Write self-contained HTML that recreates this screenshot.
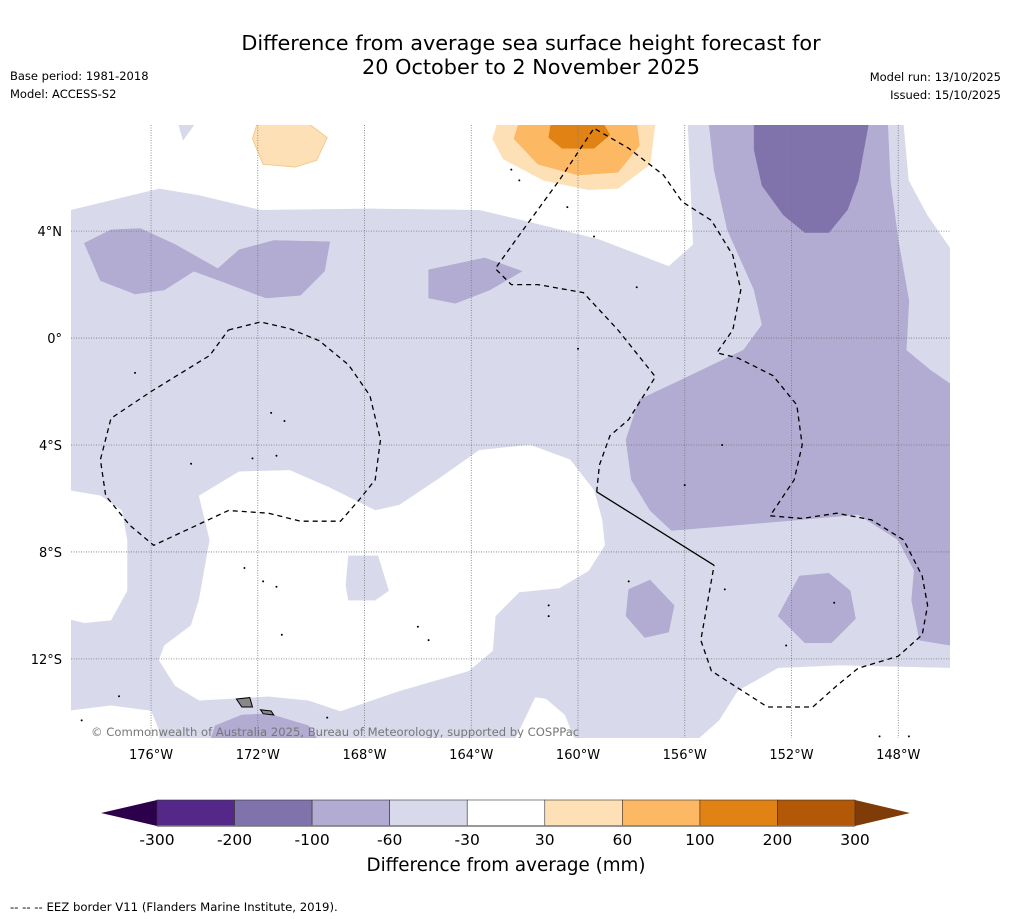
<!DOCTYPE html>
<html><head><meta charset="utf-8">
<style>
body{margin:0;background:#fff;width:1011px;height:919px;overflow:hidden;font-family:"DejaVu Sans","Liberation Sans",sans-serif;}
svg{position:absolute;left:0;top:0}
</style></head>
<body>
<svg id="chart" width="1011" height="919" viewBox="0 0 1011 919" xmlns="http://www.w3.org/2000/svg">
<text x="531" y="50" text-anchor="middle" font-size="20.8">Difference from average sea surface height forecast for</text>
<text x="531" y="74" text-anchor="middle" font-size="20.8">20 October to 2 November 2025</text>
<text x="10" y="80" font-size="11.5">Base period: 1981-2018</text>
<text x="10" y="98" font-size="11.5">Model: ACCESS-S2</text>
<text x="1001" y="81" text-anchor="end" font-size="11.5">Model run: 13/10/2025</text>
<text x="1001" y="99" text-anchor="end" font-size="11.5">Issued: 15/10/2025</text>
<defs><clipPath id="mapclip"><rect x="71" y="125" width="879" height="613"/></clipPath></defs>
<g id="map" clip-path="url(#mapclip)"></g>
<g id="axes"></g>
<g id="cbar"></g>
<text x="506" y="871" text-anchor="middle" font-size="18.3">Difference from average (mm)</text>
<text x="10" y="911" font-size="11.7">--  --  -- EEZ border V11 (Flanders Marine Institute, 2019).</text>
</svg>
<script>
const lonTicks=[-176,-172,-168,-164,-160,-156,-152,-148];
const lonLabels=["176°W","172°W","168°W","164°W","160°W","156°W","152°W","148°W"];
const latTicks=[4,0,-4,-8,-12];
const latLabels=["4°N","0°","4°S","8°S","12°S"];
const cbarLevels=[-300,-200,-100,-60,-30,30,60,100,200,300];
const cbarColors=["#542788","#8073ac","#b2abd2","#d8daeb","#ffffff","#fee0b6","#fdb863","#e08214","#b35806"];

const whiteTop=[[-179,4.8],[-175.7,5.6],[-174.2,5.35],[-171.9,4.8],[-167.8,4.85],[-163.7,4.8],[-161.8,4.35],[-159.2,3.7],[-156.6,2.7],[-155.7,3.5],[-155.9,8.1],[-179.1,8.1]];
const lightTopSliver=[[-175,8.1],[-174.3,8.1],[-174.8,7.4]];
const whiteTopRight=[[-147.8,8.1],[-147.6,5.9],[-146.9,4.6],[-146,3.3],[-146,8.1]];
const purpleRight=[[-155.1,8.1],[-154.9,6.3],[-154.4,4.05],[-153.4,1.8],[-153.1,0.5],[-153.8,-0.45],[-156.2,-1.6],[-157.7,-2.3],[-158.2,-3.8],[-158,-5.3],[-157.3,-6.45],[-156.5,-7.2],[-152.9,-6.9],[-149.5,-6.6],[-148,-7.55],[-147.4,-8.7],[-147.5,-9.8],[-147.2,-11.3],[-146,-11.5],[-146,-1.75],[-146.8,-1.2],[-147.7,-0.45],[-147.6,1.4],[-148,3.65],[-148.3,5.9],[-148.4,8.1]];
const darkRight=[[-153.4,8.1],[-153.4,7.05],[-153.1,5.7],[-152.3,4.6],[-151.5,3.95],[-150.6,3.95],[-149.9,4.8],[-149.5,5.9],[-149.1,8.1]];
const purpleLeft=[[-178.5,3.55],[-177.5,4.05],[-176.4,4.1],[-175.1,3.5],[-173.5,2.6],[-172.7,3.3],[-171.4,3.65],[-169.3,3.6],[-169.5,2.5],[-170.4,1.6],[-171.7,1.5],[-173.3,2.1],[-174.4,2.5],[-175.5,1.8],[-176.6,1.65],[-177.9,2.15]];
const purpleMid=[[-165.6,2.55],[-163.5,3],[-162.1,2.5],[-163.3,1.8],[-164.6,1.3],[-165.6,1.5]];
const purpleSmallA=[[-157.3,-9.05],[-156.4,-10],[-156.6,-11],[-157.5,-11.2],[-158.2,-10.4],[-158.1,-9.4]];
const purpleSmallB=[[-151.7,-8.9],[-150.6,-8.8],[-149.8,-9.45],[-149.6,-10.5],[-150.5,-11.4],[-151.5,-11.4],[-152.5,-10.4]];
const purpleBottom=[[-173.6,-14.5],[-172.6,-14.1],[-171.6,-14.05],[-170.1,-14.5],[-169.7,-15.1],[-173.8,-15.1]];
const whiteLower=[[-174.2,-5.9],[-172.7,-5],[-170.8,-4.95],[-169.3,-5.6],[-167.6,-6.45],[-166.7,-6.25],[-165.2,-5.25],[-163.7,-4.2],[-161.8,-4],[-160.3,-4.55],[-159.4,-5.7],[-159.1,-6.8],[-159,-7.75],[-159.6,-8.7],[-160.7,-9.35],[-162.2,-9.5],[-163.1,-10.4],[-163.2,-11.7],[-164.1,-12.45],[-166.7,-13.2],[-168.9,-13.95],[-170.1,-13.55],[-171.6,-13.4],[-174.2,-13.55],[-175.1,-13],[-175.7,-12.05],[-175.5,-11.5],[-174.5,-10.75],[-174.2,-9.8],[-173.8,-7.55]];
const lightHole=[[-168.6,-8.15],[-167.5,-8.15],[-167.1,-9.45],[-167.6,-9.8],[-168.6,-9.8],[-168.7,-9.25]];
const whiteLeftMid=[[-179.1,-5.7],[-177.9,-5.9],[-177.1,-6.45],[-176.9,-7.55],[-176.9,-9.45],[-177.5,-10.55],[-178.5,-10.65],[-179.1,-10.5]];
const whiteBottomLeft=[[-179.1,-13.95],[-177.5,-13.75],[-176,-13.95],[-175.7,-14.7],[-175.7,-15.1],[-179.1,-15.1]];
const whiteBottomCenter=[[-162.4,-15.1],[-161.6,-13.45],[-161.2,-13.5],[-160.5,-14.1],[-160.1,-15.1]];
const whiteBottomRight=[[-154.7,-14.3],[-154,-13.2],[-152.5,-12.35],[-150.2,-12.25],[-146,-12.35],[-146,-15.1],[-155.6,-15.1]];
const orange30=[[-163,8.1],[-163.2,7.45],[-162.8,6.7],[-161.3,5.9],[-159.6,5.55],[-158.5,5.6],[-157.3,6.5],[-157.1,8.1]];
const orange60=[[-162.2,8.1],[-162.4,7.45],[-161.5,6.5],[-160,6.1],[-158.5,6.2],[-157.7,7.2],[-157.8,8.1]];
const orange100=[[-161,8.1],[-161.1,7.5],[-160.6,7.1],[-159.4,7.1],[-158.8,7.6],[-159.1,8.1]];
const orangeLeft=[[-172,8.1],[-172.2,7.45],[-171.8,6.5],[-170.6,6.4],[-169.8,6.65],[-169.4,7.5],[-170.2,8.1]];
const eezCentralA=[[-159.3,-5.75],[-159.2,-4.75],[-158.8,-3.65],[-158.1,-3.05],[-157.1,-1.45],[-158.5,0.3],[-159.8,1.7],[-161.5,2],[-162.5,2],[-163.1,2.6],[-162.2,3.85],[-160.7,5.9],[-159.4,7.85],[-158.1,7.1],[-156.8,6.1],[-156.1,5.1],[-155,4.4],[-154.2,3.1],[-153.9,1.8],[-154.2,0.3],[-154.8,-0.55],[-154,-0.75],[-152.7,-1.4],[-151.8,-2.5],[-151.6,-4],[-151.9,-5.3],[-152.8,-6.65],[-151.6,-6.75],[-150.3,-6.55],[-149,-6.8],[-147.8,-7.55],[-147.1,-8.9],[-146.9,-10],[-147.1,-11.1],[-148,-11.9],[-149.5,-12.35],[-150.3,-13],[-151.2,-13.8],[-152.9,-13.8],[-155,-12.45],[-155.4,-11.3],[-154.9,-8.5]];
const eezSolid=[[-154.9,-8.5],[-159.3,-5.75]];
const eezLeft=[[-173.1,0.3],[-171.9,0.6],[-170.8,0.35],[-169.7,-0.1],[-168.6,-1],[-167.8,-2.15],[-167.4,-3.8],[-167.6,-5.3],[-168.2,-6.05],[-168.9,-6.85],[-170.4,-6.85],[-171.6,-6.55],[-173.1,-6.45],[-175.9,-7.75],[-176.8,-7],[-177.7,-5.9],[-177.9,-4.55],[-177.5,-3],[-176,-2],[-173.8,-0.65],[-173.1,0.3]];
const islandSamoaA=[[-172.8,-13.5],[-172.3,-13.45],[-172.2,-13.8],[-172.6,-13.8]];
const islandSamoaB=[[-171.9,-13.9],[-171.5,-13.95],[-171.4,-14.1],[-171.8,-14.05]];
const islets=[[-176.6,-1.3],[-171.5,-2.8],[-171,-3.1],[-174.5,-4.7],[-172.2,-4.5],[-171.3,-4.4],[-172.5,-8.6],[-171.8,-9.1],[-171.3,-9.3],[-171.1,-11.1],[-166,-10.8],[-165.6,-11.3],[-161.1,-10.0],[-161.1,-10.4],[-158.1,-9.1],[-154.6,-4.0],[-156,-5.5],[-162.5,6.3],[-162.2,5.9],[-160.4,4.9],[-159.4,3.8],[-157.8,1.9],[-160,-0.4],[-154.5,-9.4],[-150.4,-9.9],[-152.2,-11.5],[-177.2,-13.4],[-178.6,-14.3],[-169.4,-14.2],[-148.7,-14.9],[-147.6,-14.9],[-145.9,-14.6]];

const X0=71,X1=950,Y0=125,Y1=738;
const lonMin=-179.0,lonMax=-146.06,latMin=-14.96,latMax=7.97;
function xs(lon){return X0+(lon-lonMin)/(lonMax-lonMin)*(X1-X0);}
function ys(lat){return Y0+(latMax-lat)/(latMax-latMin)*(Y1-Y0);}
const NS="http://www.w3.org/2000/svg";
const map=document.getElementById('map');
const axes=document.getElementById('axes');
const cbar=document.getElementById('cbar');
function mk(tag,attrs,parent){const e=document.createElementNS(NS,tag);for(const k in attrs)e.setAttribute(k,attrs[k]);parent.appendChild(e);return e;}
function ptsStr(a){return a.map(p=>xs(p[0]).toFixed(1)+','+ys(p[1]).toFixed(1)).join(' ');}
function poly(a,fill,name,stroke){const e=mk('polygon',{points:ptsStr(a),fill:fill,stroke:stroke||fill,'stroke-width':stroke?1:0.5},map);

return e;}

const bg=mk('rect',{x:X0,y:Y0,width:X1-X0,height:Y1-Y0,fill:'#d8daeb'},map);


poly(whiteTop,'#ffffff','white-region-north');
poly(lightTopSliver,'#d8daeb','light-sliver');
poly(whiteTopRight,'#ffffff','white-region-northeast');
poly(whiteLower,'#ffffff','white-region-south');
poly(lightHole,'#d8daeb','light-patch-south');
poly(whiteLeftMid,'#ffffff','white-region-west');
poly(whiteBottomLeft,'#ffffff','white-region-southwest');
poly(whiteBottomCenter,'#ffffff','white-region-bottom-center');
poly(whiteBottomRight,'#ffffff','white-region-southeast');
poly(purpleRight,'#b2abd2','band-minus100-minus60-east');
poly(darkRight,'#8073ac','band-minus200-minus100-east');
poly(purpleLeft,'#b2abd2','band-minus100-minus60-west');
poly(purpleMid,'#b2abd2','band-minus100-minus60-central');
poly(purpleSmallA,'#b2abd2','band-minus100-minus60-patch-a');
poly(purpleSmallB,'#b2abd2','band-minus100-minus60-patch-b');
poly(purpleBottom,'#b2abd2','band-minus100-minus60-south');
poly(orange30,'#fee0b6','band-30-60-north');
poly(orange60,'#fdb863','band-60-100-north');
poly(orange100,'#e08214','band-100-200-north');
poly(orangeLeft,'#fee0b6','band-30-60-northwest','#f5c98f');

lonTicks.forEach((lon,i)=>{
 const g=mk('line',{x1:xs(lon),x2:xs(lon),y1:Y0,y2:Y1,stroke:'#777','stroke-width':0.8,'stroke-dasharray':'1,1.5'},map);
 
 
 const t=mk('text',{x:xs(lon),y:759,'text-anchor':'middle','font-size':13},axes);t.textContent=lonLabels[i];
 
 
});
latTicks.forEach((lat,i)=>{
 const g=mk('line',{x1:X0,x2:X1,y1:ys(lat),y2:ys(lat),stroke:'#777','stroke-width':0.8,'stroke-dasharray':'1,1.5'},map);
 
 
 const t=mk('text',{x:62,y:ys(lat)+5,'text-anchor':'end','font-size':13},axes);t.textContent=latLabels[i];
 
 
});
[eezCentralA,eezLeft].forEach(a=>{
 const e=mk('polyline',{points:ptsStr(a),fill:'none',stroke:'#000','stroke-width':1.3,'stroke-dasharray':'5,4'},map);
 
 
});
const es=mk('polyline',{points:ptsStr(eezSolid),fill:'none',stroke:'#000','stroke-width':1.3},map);


poly(islandSamoaA,'#888','island-samoa','#000');
poly(islandSamoaB,'#888','island-samoa-east','#000');
islets.forEach(p=>{const c=mk('circle',{cx:xs(p[0]),cy:ys(p[1]),r:1,fill:'#000'},map);
 
 });
const cp=mk('text',{x:91,y:736,'font-size':11.6,fill:'#777'},map);cp.textContent='© Commonwealth of Australia 2025, Bureau of Meteorology, supported by COSPPac';



const CB0=157,CB1=855,CBY=800,CBH=26;
function cx(i){return CB0+i*(CB1-CB0)/(cbarLevels.length-1);}
const lt=mk('polygon',{points:`101,${CBY+CBH/2} ${CB0},${CBY} ${CB0},${CBY+CBH}`,fill:'#2d004b'},cbar);


const rt=mk('polygon',{points:`910,${CBY+CBH/2} ${CB1},${CBY} ${CB1},${CBY+CBH}`,fill:'#7f3b08'},cbar);


cbarColors.forEach((c,i)=>{
 const r=mk('rect',{x:cx(i),y:CBY,width:cx(i+1)-cx(i),height:CBH,fill:c,stroke:'#333','stroke-width':0.6},cbar);
 
 
});
mk('line',{x1:CB0,x2:CB1,y1:CBY+CBH,y2:CBY+CBH,stroke:'#777','stroke-width':1.5},cbar);
cbarLevels.forEach((v,i)=>{
 const t=mk('text',{x:cx(i),y:845,'text-anchor':'middle','font-size':15.5},cbar);t.textContent=String(v);
 
 
});
</script>
</body></html>
